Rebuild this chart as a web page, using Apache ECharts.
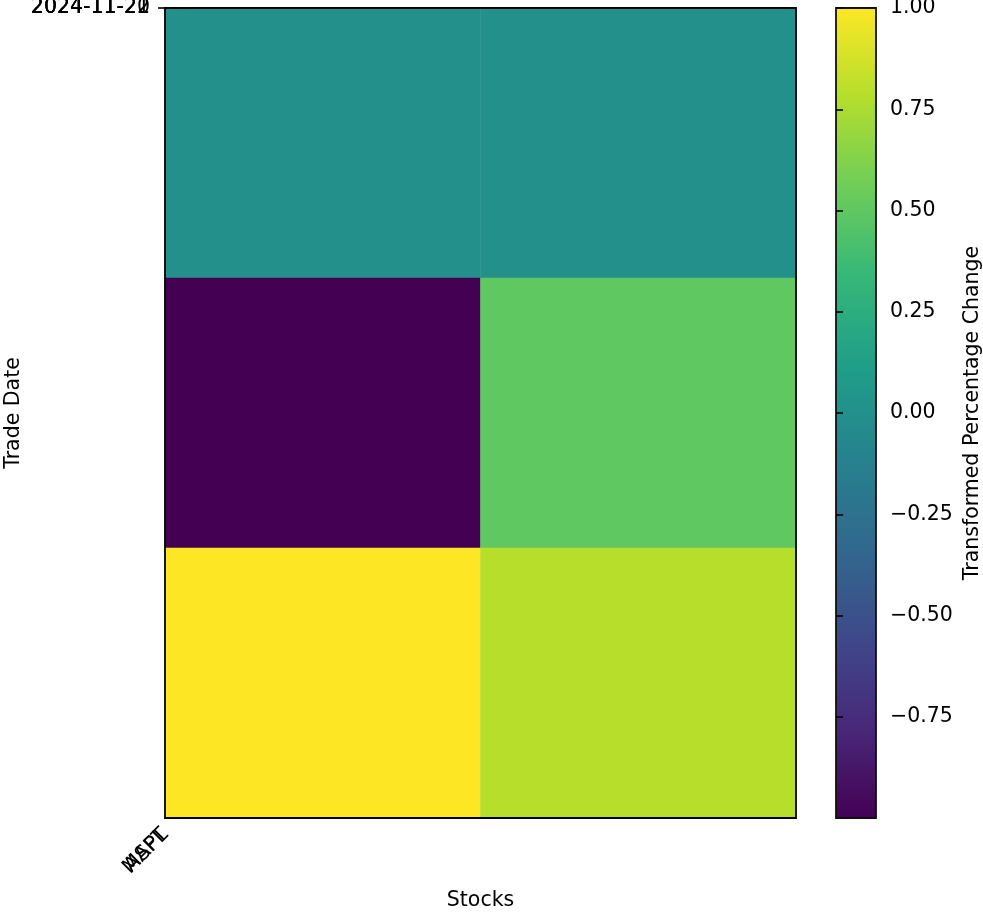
<!DOCTYPE html>
<html>
<head>
<meta charset="utf-8">
<script src="https://cdn.jsdelivr.net/npm/echarts@6/dist/echarts.min.js"></script>
<style>
html,body{margin:0;padding:0;background:#fff;}
#chart{width:983px;height:915px;}
</style>
</head>
<body>
<div id="chart"></div>
<script>
const stocks = ['AAPL', 'MSFT'];
const tradeDates = ['2024-11-20', '2024-11-21', '2024-11-22'];
const aaplValues = [0.0, -1.0, 1.0];
const msftValues = [0.0, 0.5, 0.79];
const colorbarTicks = [-0.75, -0.5, -0.25, 0, 0.25, 0.5, 0.75, 1.0];
const viridis = ['#440154', '#482878', '#3E4989', '#31688E', '#26828E', '#1F9E89', '#35B779', '#6DCD59', '#B4DE2C', '#FDE725'];

const FONT = 'DejaVu Sans';
const FS = 20.5;

const heatData = [];
tradeDates.forEach((d, r) => {
  heatData.push([0, r, aaplValues[r]]);
  heatData.push([1, r, msftValues[r]]);
});

const gradStops = viridis.map((c, i) => ({ offset: 1 - i / (viridis.length - 1), color: c }));

function fmtTick(v) {
  const s = Math.abs(v).toFixed(2);
  return (v < 0 ? '\u2212' : '') + s;
}

const chart = echarts.init(document.getElementById('chart'), null, { renderer: 'canvas' });

const labelStyle = { fontFamily: FONT, fontSize: FS, color: '#000' };

const xLabelAxes = stocks.map((s, i) => ({
  type: 'value', gridIndex: 0, min: 0, max: 1, position: 'bottom',
  axisLine: { show: false }, splitLine: { show: false },
  axisTick: { show: i === 0, customValues: [0], length: 7, lineStyle: { color: '#000', width: 1.6 } },
  axisLabel: Object.assign({ customValues: [0], rotate: 45, margin: 14, formatter: () => stocks[stocks.length - 1 - i] }, labelStyle)
}));

const yLabelAxes = tradeDates.map((d, i) => ({
  type: 'value', gridIndex: 0, min: 0, max: 1, inverse: true, position: 'left',
  axisLine: { show: false }, splitLine: { show: false },
  axisTick: { show: i === 0, customValues: [0], length: 7, lineStyle: { color: '#000', width: 1.6 } },
  axisLabel: Object.assign({ customValues: [0], margin: 15, padding: [3, 0, 0, 0], formatter: () => d }, labelStyle)
}));

chart.setOption({
  animation: false,
  backgroundColor: '#fff',
  textStyle: { fontFamily: FONT },
  grid: [
    { left: 165, top: 8, width: 631, height: 810, show: true, z: 5, borderColor: '#000', borderWidth: 1.8, backgroundColor: 'transparent', containLabel: false, outerBoundsMode: 'none' },
    { left: 836, top: 8, width: 40, height: 810, show: true, borderColor: '#111', borderWidth: 1.8, outerBoundsMode: 'none',
      backgroundColor: { type: 'linear', x: 0, y: 0, x2: 0, y2: 1, colorStops: gradStops.slice().reverse() }, containLabel: false }
  ],
  xAxis: [
    { type: 'category', gridIndex: 0, data: stocks, axisLine: { show: false }, axisTick: { show: false }, axisLabel: { show: false }, splitLine: { show: false },
      name: 'Stocks', nameLocation: 'middle', nameGap: 72, nameTextStyle: labelStyle },
    ...xLabelAxes,
    { type: 'value', gridIndex: 1, show: false, min: 0, max: 1 }
  ],
  yAxis: [
    { type: 'category', gridIndex: 0, data: tradeDates, inverse: true, axisLine: { show: false }, axisTick: { show: false }, axisLabel: { show: false }, splitLine: { show: false },
      name: 'Trade Date', nameLocation: 'middle', nameGap: 141, nameTextStyle: labelStyle },
    ...yLabelAxes,
    { type: 'value', gridIndex: 1, min: -1, max: 1, position: 'right',
      axisLine: { show: false }, splitLine: { show: false },
      axisTick: { customValues: colorbarTicks, length: 7, lineStyle: { color: '#000', width: 1.6 } },
      axisLabel: Object.assign({ customValues: colorbarTicks, margin: 14, padding: [3, 0, 0, 0], formatter: v => fmtTick(v) }, labelStyle),
      name: 'Transformed Percentage Change', nameLocation: 'middle', nameGap: 86, nameRotate: 90, nameTextStyle: labelStyle }
  ],
  visualMap: {
    show: false, type: 'continuous', min: -1, max: 1, seriesIndex: 0, dimension: 2,
    inRange: { color: viridis }
  },
  series: [{
    type: 'heatmap', xAxisIndex: 0, yAxisIndex: 0, data: heatData,
    itemStyle: { borderWidth: 0 },
    emphasis: { disabled: true }
  }]
});
</script>
</body>
</html>
